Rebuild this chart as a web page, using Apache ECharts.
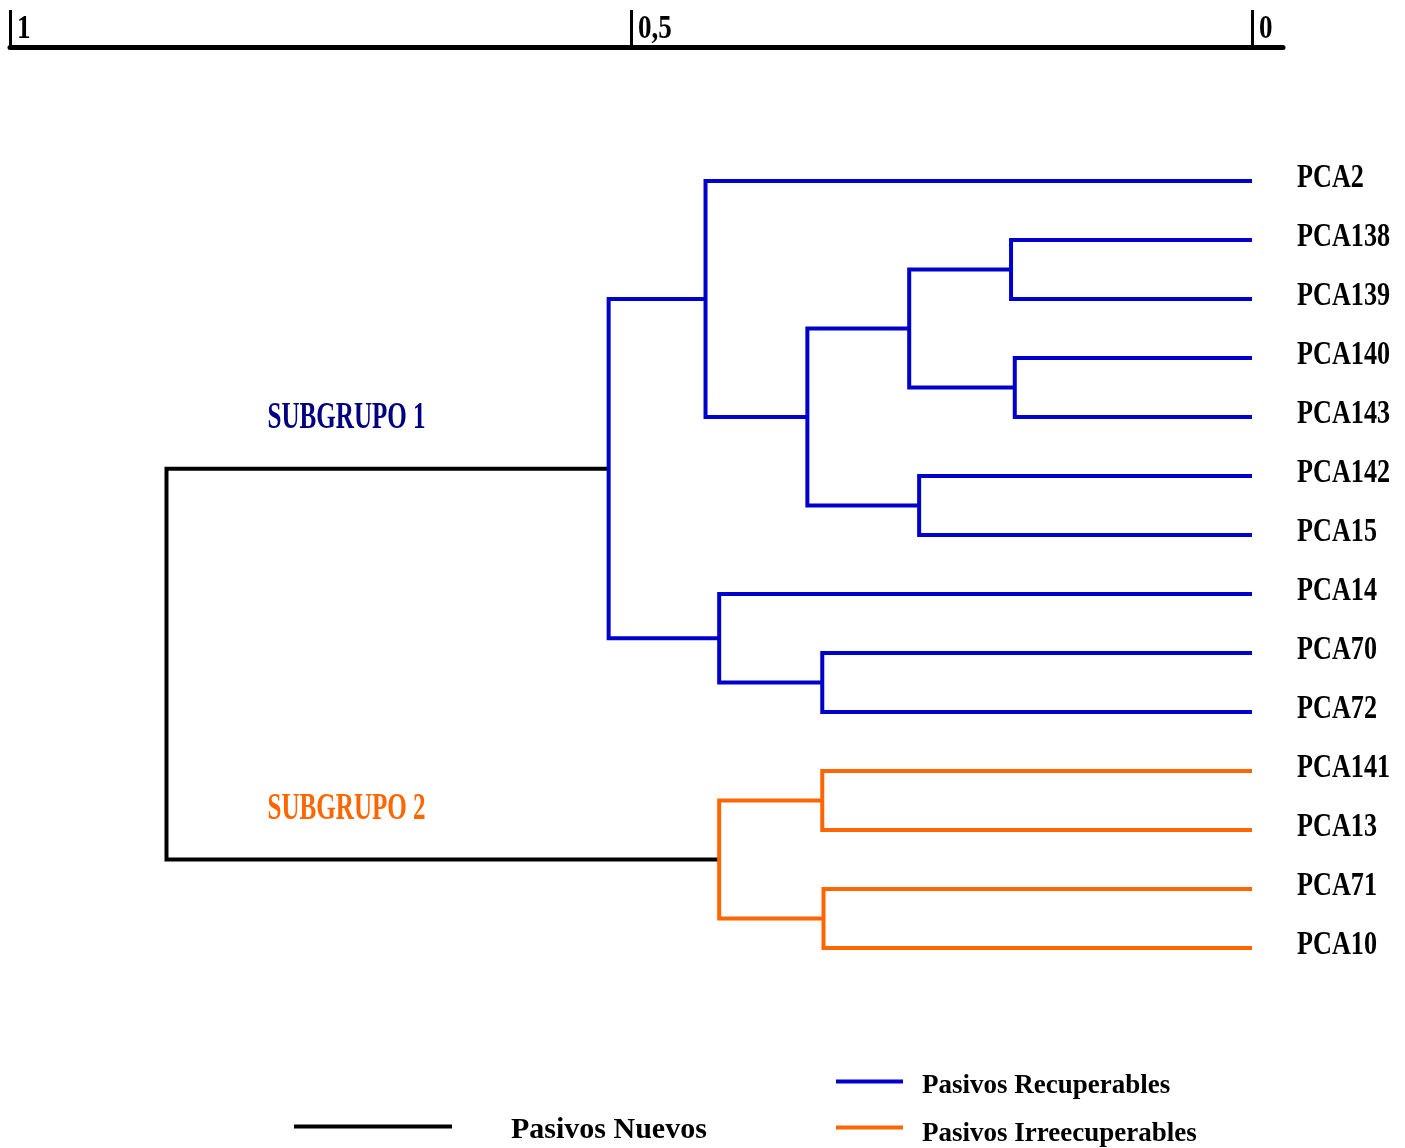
<!DOCTYPE html>
<html>
<head>
<meta charset="utf-8">
<script src="https://cdn.jsdelivr.net/npm/echarts@6/dist/echarts.min.js"></script>
<style>
html,body{margin:0;padding:0;background:#fff;}
#chart{width:1405px;height:1148px;}
</style>
</head>
<body>
<div id="chart"></div>
<script>
// ---------- data ----------
const leaves = ['PCA2','PCA138','PCA139','PCA140','PCA143','PCA142','PCA15','PCA14','PCA70','PCA72','PCA141','PCA13','PCA71','PCA10'];
const leafGroup = ['Pasivos Recuperables','Pasivos Recuperables','Pasivos Recuperables','Pasivos Recuperables','Pasivos Recuperables',
  'Pasivos Recuperables','Pasivos Recuperables','Pasivos Recuperables','Pasivos Recuperables','Pasivos Recuperables',
  'Pasivos Irreecuperables','Pasivos Irreecuperables','Pasivos Irreecuperables','Pasivos Irreecuperables'];
// merges: node ids 0..13 are leaves, merge k gets id 14+k
const mergeA = [1, 3, 14, 5, 16, 0, 8, 7, 19, 10, 12, 23, 22];
const mergeB = [2, 4, 15, 6, 17, 18, 9, 20, 21, 11, 13, 24, 25];
const mergeHeight = [0.194, 0.191, 0.276, 0.268, 0.358, 0.440, 0.346, 0.429, 0.518, 0.346, 0.345, 0.429, 0.874];
const subgroupNames = ['SUBGRUPO 1', 'SUBGRUPO 2'];
const scaleTicks = [1, 0.5, 0];
const scaleTickLabels = ['1', '0,5', '0'];
const groupNames = ['Pasivos Nuevos', 'Pasivos Recuperables', 'Pasivos Irreecuperables'];

// ---------- styles ----------
const groupColor = {
  'Pasivos Nuevos': '#000000',
  'Pasivos Recuperables': '#0000CC',
  'Pasivos Irreecuperables': '#FF6600'
};
const subgroupColor = ['#000080', '#FF6600'];
const FONT = '"Liberation Serif","Times New Roman",serif';
// vertical nudge of legend text below its line (px, as spacer line height)
const legendSpacer = { 'Pasivos Nuevos': 8, 'Pasivos Recuperables': 10, 'Pasivos Irreecuperables': 14 };

// ---------- tree layout ----------
const nodeH = [], nodeY = [], nodeG = [];
leaves.forEach((l, i) => { nodeH[i] = 0; nodeY[i] = i; nodeG[i] = leafGroup[i]; });
mergeA.forEach((a, k) => {
  const b = mergeB[k], id = leaves.length + k;
  nodeH[id] = mergeHeight[k];
  nodeY[id] = (nodeY[a] + nodeY[b]) / 2;
  nodeG[id] = nodeG[a] === nodeG[b] ? nodeG[a] : 'Pasivos Nuevos';
});
const rootId = leaves.length + mergeA.length - 1;

function treeData(g) {
  const out = [];
  mergeA.forEach((a, k) => {
    const id = leaves.length + k, b = mergeB[k];
    if (nodeG[id] === g) out.push([nodeH[id], nodeH[a], nodeY[a], nodeH[b], nodeY[b]]);
  });
  return out;
}

const treeSeries = groupNames.map(g => ({
  type: 'custom', name: g, xAxisIndex: 1, yAxisIndex: 1,
  itemStyle: { color: groupColor[g] },
  encode: { x: [0, 1, 3], y: [2, 4] },
  data: treeData(g),
  renderItem: function (params, api) {
    const h = api.value(0);
    const pA0 = api.coord([api.value(1), api.value(2)]);
    const pA1 = api.coord([h, api.value(2)]);
    const pB1 = api.coord([h, api.value(4)]);
    const pB0 = api.coord([api.value(3), api.value(4)]);
    return {
      type: 'polyline',
      shape: { points: [pA0, pA1, pB1, pB0] },
      style: { stroke: groupColor[g], lineWidth: 4, fill: null, lineJoin: 'miter', lineCap: 'butt' }
    };
  }
}));

const leafLabelSeries = {
  type: 'custom', name: 'leafLabels', xAxisIndex: 1, yAxisIndex: 1, silent: true,
  data: leaves.map((l, i) => [0, i, l]),
  renderItem: function (params, api) {
    const p = api.coord([api.value(0), api.value(1)]);
    return {
      type: 'text', x: p[0] + 45, y: p[1] - 3, scaleX: 0.77,
      style: { text: leaves[params.dataIndex], fill: '#000', font: 'bold 34px ' + FONT, align: 'left', verticalAlign: 'middle' }
    };
  }
};

const rootChildren = [mergeA[mergeA.length - 1], mergeB[mergeB.length - 1]];
const subgroupSeries = {
  type: 'custom', name: 'subgroups', xAxisIndex: 1, yAxisIndex: 1, silent: true,
  data: rootChildren.map((c, i) => [nodeH[rootId], nodeY[c], subgroupNames[i]]),
  renderItem: function (params, api) {
    const p = api.coord([api.value(0), api.value(1)]);
    return {
      type: 'text', x: p[0] + 101, y: p[1] - 50, scaleX: 0.66,
      style: { text: subgroupNames[params.dataIndex], fill: subgroupColor[params.dataIndex], font: 'bold 38px ' + FONT, align: 'left', verticalAlign: 'middle' }
    };
  }
};

const scaleLabelSeries = {
  type: 'custom', name: 'scaleLabels', xAxisIndex: 0, yAxisIndex: 0, silent: true,
  data: scaleTicks.map((v, i) => [v, 1]),
  renderItem: function (params, api) {
    const p = api.coord([api.value(0), api.value(1)]);
    return {
      type: 'text', x: p[0] + 7, y: p[1] - 18, scaleX: 0.82,
      style: { text: scaleTickLabels[params.dataIndex], fill: '#000', font: 'bold 33px ' + FONT, align: 'left', verticalAlign: 'middle' }
    };
  }
};

function legendOf(name, left, top, itemWidth, fontSize, gap) {
  return {
    data: [name], left: left, top: top, padding: 0,
    icon: 'rect', itemWidth: itemWidth, itemHeight: 4, selectedMode: false,
    formatter: function (n) { return '{s| }\n{t|' + n + '}'; },
    textStyle: {
      padding: [0, 0, 0, gap],
      rich: {
        t: { fontFamily: FONT, fontWeight: 'bold', fontSize: fontSize, color: '#000', lineHeight: 30 },
        s: { fontSize: 1, lineHeight: legendSpacer[name] }
      }
    }
  };
}

const chart = echarts.init(document.getElementById('chart'), null, { renderer: 'canvas' });
chart.setOption({
  backgroundColor: '#fff',
  animation: false,
  grid: [
    { left: 10, right: 122, top: 47, height: 20 },
    { left: 10, right: 153, top: 151.5, height: 826 }
  ],
  xAxis: [
    {
      gridIndex: 0, type: 'value', position: 'top', inverse: true, min: -0.025, max: 1,
      axisLine: { show: true, onZero: false, lineStyle: { color: '#000', width: 5 } },
      axisTick: { show: true, customValues: scaleTicks, length: 37, inside: false, lineStyle: { color: '#000', width: 3 } },
      axisLabel: { show: false },
      splitLine: { show: false }
    },
    {
      gridIndex: 1, type: 'value', inverse: true, min: 0, max: 1, show: false,
      splitLine: { show: false }
    }
  ],
  yAxis: [
    { gridIndex: 0, type: 'value', min: 0, max: 1, show: false, splitLine: { show: false } },
    { gridIndex: 1, type: 'value', min: -0.5, max: 13.5, inverse: true, show: false, splitLine: { show: false } }
  ],
  legend: [
    legendOf('Pasivos Nuevos', 294, 1111, 158, 30, 54),
    legendOf('Pasivos Recuperables', 836, 1066, 67, 27, 14),
    legendOf('Pasivos Irreecuperables', 836, 1112, 67, 27, 14)
  ],
  series: treeSeries.concat([leafLabelSeries, subgroupSeries, scaleLabelSeries])
});
</script>
</body>
</html>
